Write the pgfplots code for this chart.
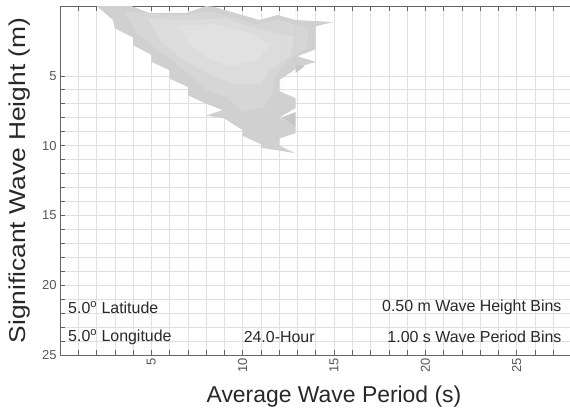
\documentclass[border=0pt]{standalone}
\usepackage{fontspec}
\setmainfont{Liberation Sans}
\usepackage{graphicx}
\usepackage{pgfplots}
\pgfplotsset{compat=1.18}
\definecolor{fillg}{RGB}{208,208,208}
\definecolor{fillm}{RGB}{214,214,214}
\definecolor{fillin}{RGB}{220,220,220}
\definecolor{fillc}{RGB}{225,225,225}
\definecolor{filldk}{RGB}{198,198,198}
\definecolor{gridc}{RGB}{224,224,224}
\definecolor{axc}{RGB}{100,100,100}
\definecolor{tickc}{RGB}{85,85,85}
\definecolor{txtc}{RGB}{40,40,40}
\begin{document}
\begin{tikzpicture}
\begin{axis}[
  at={(60bp,58bp)}, anchor=south west,
  scale only axis, width=548bp, height=349bp,
  xmin=0, xmax=30, ymin=0, ymax=25, y dir=reverse,
  xtick={5,10,...,25}, ytick={5,10,...,25},
  minor xtick={1,2,...,29}, minor y tick num=4,
  grid=both,
  major grid style={gridc, line width=0.6pt},
  minor grid style={gridc, line width=0.6pt},
  tick align=inside,
  major tick length=5bp, minor tick length=5bp,
  tick style={axc, line width=0.6pt},
  axis line style={axc, line width=0.7pt},
  /pgf/number format/assume math mode=true,
  ticklabel style={font=\fontsize{13}{13}\selectfont, text=tickc},
  xticklabel style={rotate=90, anchor=east},
  xlabel={Average Wave Period (s)},
  ylabel={\scalebox{1.15}[1]{Significant Wave Height (m)}},
  xlabel style={font=\fontsize{23}{23}\selectfont, text=txtc, at={(axis description cs:0.5,-0.12)}, anchor=center},
  ylabel style={font=\fontsize{23}{23}\selectfont, text=txtc, at={(axis description cs:-0.073,0.5)}, anchor=center, rotate=0},
]
\addplot[draw=none, fill=fillg] coordinates {
 (2.0,0.0) (3.9,0.0) (4.9,0.5) (6.9,0.5) (8.0,0.0) (8.4,0.05)
 (10.9,1.0) (11.9,0.65) (12.9,1.0) (14.95,1.15) (14.0,1.45)
 (14.0,3.1) (13.0,3.6) (14.0,4.0) (13.0,4.4) (12.7,4.7) (12.0,5.3)
 (12.0,6.1) (12.9,6.6) (12.9,7.3) (12.0,8.0) (12.9,8.5) (12.9,9.1)
 (12.0,9.5) (12.0,10.0) (12.9,10.55)
 (11.0,10.15) (11.0,9.9) (10.0,9.3) (10.0,8.9) (9.0,8.05) (8.0,7.85)
 (8.9,7.45) (8.0,7.0) (7.0,6.4) (7.0,5.8) (6.0,5.2) (6.0,4.6)
 (5.0,4.0) (5.0,3.5) (4.0,2.8) (4.0,2.25) (3.0,1.6) (2.9,1.0) (2.0,0.0)
} \closedcycle;
\addplot[draw=none, fill=fillm] coordinates {
 (3.5,0.4) (6.5,0.7) (8.2,0.4) (10.8,1.3) (12.0,1.0) (13.6,1.6)
 (13.5,3.0) (12.5,3.9) (11.8,5.0) (11.6,6.3) (11.2,7.2) (10.0,7.6)
 (9.2,6.6) (8.0,6.0) (7.2,5.0) (6.2,4.0) (5.2,3.0) (4.2,2.0) (3.5,0.4)
} \closedcycle;
\addplot[draw=none, fill=fillin] coordinates {
 (4.8,0.9) (7.0,1.0) (9.0,0.9) (11.0,1.7) (12.8,2.2) (12.6,3.6)
 (11.5,4.6) (11.0,5.6) (9.5,5.6) (8.0,4.8) (6.5,3.6) (5.5,2.5) (4.8,0.9)
} \closedcycle;
\addplot[draw=none, fill=fillc] coordinates {
 (6.5,1.4) (8.5,1.3) (10.5,2.0) (11.5,2.8) (10.8,3.9) (9.3,4.3)
 (8.0,3.7) (7.0,2.6) (6.5,1.4)
} \closedcycle;
\addplot[draw=none, fill=filldk] coordinates {
 (12.1,8.0) (12.9,7.6) (12.9,8.6) (12.1,8.0)
} \closedcycle;
\addplot[draw=none, fill=filldk] coordinates {
 (12.9,4.2) (13.4,4.3) (12.9,4.8) (12.9,4.2)
} \closedcycle;
\node[anchor=west, inner sep=0pt, text=txtc, font=\fontsize{16}{16}\selectfont] at (axis cs:0.44,21.6) {5.0\textsuperscript{o} Latitude};
\node[anchor=west, inner sep=0pt, text=txtc, font=\fontsize{16}{16}\selectfont] at (axis cs:0.44,23.7) {5.0\textsuperscript{o} Longitude};
\node[anchor=center, inner sep=0pt, text=txtc, font=\fontsize{16}{16}\selectfont] at (axis cs:12.0,23.7) {24.0-Hour};
\node[anchor=east, inner sep=0pt, text=txtc, font=\fontsize{16}{16}\selectfont] at (axis cs:27.46,21.6) {0.50 m Wave Height Bins};
\node[anchor=east, inner sep=0pt, text=txtc, font=\fontsize{16}{16}\selectfont] at (axis cs:27.46,23.7) {1.00 s Wave Period Bins};
\end{axis}
\pgfresetboundingbox
\useasboundingbox (0,0) rectangle (570bp,413bp);
\end{tikzpicture}
\end{document}
